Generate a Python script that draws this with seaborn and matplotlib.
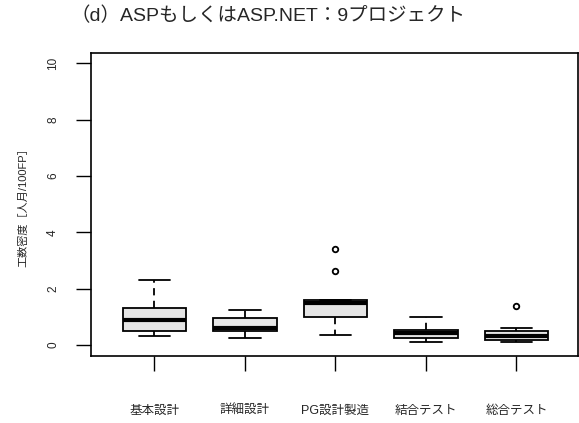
import matplotlib
matplotlib.use("Agg")
import matplotlib.pyplot as plt
import seaborn as sns
import pandas as pd

phases = ["基本設計", "詳細設計", "PG設計製造", "結合テスト", "総合テスト"]
kihon = [0.31, 0.40, 0.49, 0.70, 0.89, 1.05, 1.30, 1.80, 2.30]
shosai = [0.24, 0.40, 0.49, 0.55, 0.61, 0.75, 0.95, 1.10, 1.24]
pg = [0.35, 0.80, 1.00, 1.30, 1.48, 1.55, 1.60, 2.62, 3.40]
ketsugo = [0.12, 0.20, 0.24, 0.35, 0.44, 0.50, 0.55, 0.80, 0.98]
sogo = [0.12, 0.15, 0.18, 0.25, 0.33, 0.40, 0.49, 0.60, 1.39]
yticks = [0, 2, 4, 6, 8, 10]

rows = []
for name, vals in zip(phases, [kihon, shosai, pg, ketsugo, sogo]):
    for v in vals:
        rows.append({"phase": name, "value": v})
df = pd.DataFrame(rows)

sns.set_style("white")
plt.rcParams['font.family'] = ['Liberation Sans', 'Noto Sans CJK JP', 'DejaVu Sans']

W, H = 579, 423
fig = plt.figure(figsize=(W / 100, H / 100), dpi=100)
ax = fig.add_axes([91 / W, 1 - 356 / H, (578 - 91) / W, (356 - 53) / H])

sns.boxplot(data=df, x="phase", y="value", order=phases, ax=ax,
            color="#e5e5e5", width=0.7, linecolor="black", linewidth=1.3,
            whiskerprops=dict(linestyle=(0, (4, 3)), linewidth=1.3),
            medianprops=dict(linewidth=3, color="black"),
            capprops=dict(linewidth=1.3),
            flierprops=dict(marker="o", markerfacecolor="white",
                            markeredgecolor="black", markersize=4,
                            markeredgewidth=1.3),
            saturation=1)

ax.set_xlim(-0.70, 4.68)
ax.set_ylim(-0.39, 10.37)
ax.set_yticks(yticks)
ax.set_yticklabels([str(t) for t in yticks], rotation=90, va="center", fontsize=8.5)
ax.tick_params(axis="y", length=11, width=1, pad=12, left=True, color="black")
ax.tick_params(axis="x", length=11, width=1, pad=24, bottom=True, labelsize=9, color="black")
for s in ax.spines.values():
    s.set_color("black")
    s.set_linewidth(1.2)
ax.set_xlabel("")
ax.set_ylabel("工数密度［人月/100FP］", fontsize=8)
ax.yaxis.set_label_coords(-0.128, 0.5)

fig.text(268 / W, 1 - 16 / H, "（d）ASPもしくはASP.NET：9プロジェクト",
         ha="center", va="center", fontsize=14)

fig.savefig("out.png", dpi=100)
